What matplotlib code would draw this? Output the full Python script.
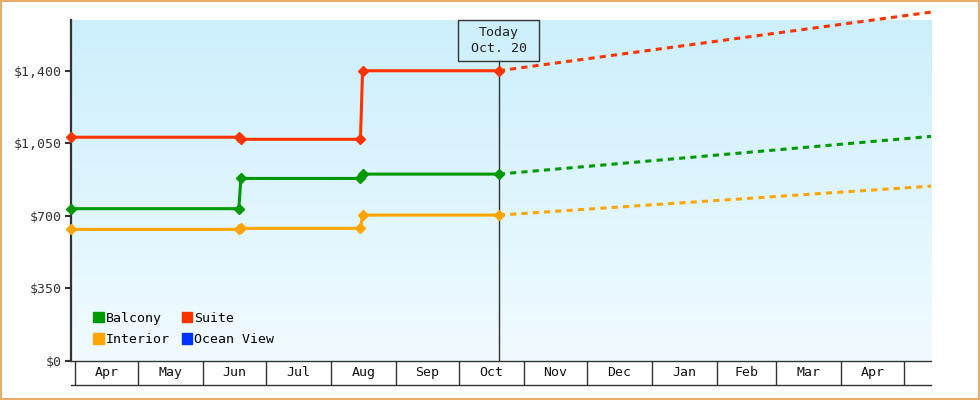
import numpy as np
import matplotlib.pyplot as plt
import matplotlib.dates as mdates
from matplotlib.patches import Patch, Rectangle
from matplotlib.ticker import FuncFormatter
from datetime import date

# price history (step changes) up to today
history_dates = [date(2014, 3, 30), date(2014, 6, 18), date(2014, 6, 19),
                 date(2014, 8, 15), date(2014, 8, 16), date(2014, 10, 20)]
suite_hist = [1079, 1079, 1069, 1069, 1400, 1400]
balcony_hist = [734, 734, 880, 880, 901, 901]
interior_hist = [634, 634, 639, 639, 703, 703]

# projection from today to the end of the range
today = date(2014, 10, 20)
proj_dates = [today, date(2015, 5, 14)]
suite_proj = [1400, 1683]
balcony_proj = [901, 1083]
interior_proj = [703, 843]

month_starts = [date(2014, m, 1) for m in range(4, 13)] + \
               [date(2015, m, 1) for m in range(1, 6)]
month_labels = ["Apr", "May", "Jun", "Jul", "Aug", "Sep", "Oct",
                "Nov", "Dec", "Jan", "Feb", "Mar", "Apr"]

x_start, x_end = date(2014, 3, 30), date(2015, 5, 14)
y_max = 1645
y_ticks = [0, 350, 700, 1050, 1400]

colors = {"Balcony": "#009900", "Interior": "#FFA500",
          "Suite": "#FF3300", "Ocean View": "#0033FF"}

plt.rcParams["font.family"] = ["DejaVu Sans Mono"]
plt.rcParams["font.size"] = 9.5

fig = plt.figure(figsize=(9.8, 4), dpi=100, edgecolor="#E9AB6A", linewidth=1.5)
ax = fig.add_axes([71 / 980, 39.3 / 400, 860 / 980, 340.7 / 400])
axm = fig.add_axes([71 / 980, 15 / 400, 860 / 980, 24.3 / 400], sharex=ax)

# gradient background
grad = np.linspace(0, 1, 256).reshape(-1, 1)
top = np.array([0.80, 0.937, 0.988])
bottom = np.array([0.945, 0.984, 1.0])
img = top * (1 - grad[..., None]) + bottom * grad[..., None]
ax.imshow(img, extent=[0, 1, 0, 1], transform=ax.transAxes,
          aspect="auto", zorder=0)

series = [
    (balcony_hist, balcony_proj, colors["Balcony"]),
    (interior_hist, interior_proj, colors["Interior"]),
    (suite_hist, suite_proj, colors["Suite"]),
]

# today marker line and box
ax.axvline(today, ymin=0, ymax=0.88, color="#333333", lw=1.0, zorder=2)
ax.add_patch(Rectangle((mdates.date2num(today) - 19.3, 0.88), 38.6, 0.12,
                       transform=ax.get_xaxis_transform(), fill=False,
                       edgecolor="#333333", lw=1.0, zorder=2, clip_on=False))
ax.text(today, 0.94, "Today\nOct. 20", transform=ax.get_xaxis_transform(),
        ha="center", va="center", linespacing=1.3, color="#222222", zorder=3)

for hist, proj, c in series:
    ax.plot(history_dates, hist, color=c, lw=2.2, marker="D", ms=5,
            zorder=4, clip_on=False)
    ax.plot(proj_dates, proj, color=c, lw=2.2, dashes=(2.0, 1.7),
            zorder=4, clip_on=False)

ax.set_xlim(x_start, x_end)
ax.set_ylim(0, y_max)
ax.set_yticks(y_ticks)
ax.yaxis.set_major_formatter(FuncFormatter(lambda v, p: f"${v:,.0f}"))
ax.tick_params(axis="y", length=4.5, width=1.5, color="#333333",
               labelcolor="#333333", pad=2)
ax.tick_params(axis="x", bottom=False, labelbottom=False)
for s in ["top", "right", "bottom"]:
    ax.spines[s].set_visible(False)
ax.spines["left"].set_linewidth(1.6)
ax.spines["left"].set_color("#333333")

# legend
handles = [Patch(color=colors[k]) for k in ["Balcony", "Interior", "Suite", "Ocean View"]]
ax.legend(handles, ["Balcony", "Interior", "Suite", "Ocean View"], ncol=2,
          loc="lower left", bbox_to_anchor=(0.012, 0.008), frameon=False,
          handlelength=0.8, handleheight=0.8, handletextpad=0.15,
          columnspacing=0.9, labelspacing=0.62, borderaxespad=0.5)

# month cells below the plot
axm.set_ylim(0, 1)
for d in month_starts:
    axm.axvline(d, color="#333333", lw=1.0)
for i, lab in enumerate(month_labels):
    mid = mdates.date2num(month_starts[i]) + \
        (mdates.date2num(month_starts[i + 1]) - mdates.date2num(month_starts[i])) / 2
    axm.text(mid, 0.5, lab, ha="center", va="center", color="#111111")
axm.set_yticks([])
axm.tick_params(axis="x", bottom=False, labelbottom=False)
axm.set_facecolor("white")
for s in ["left", "right"]:
    axm.spines[s].set_visible(False)
for s in ["top", "bottom"]:
    axm.spines[s].set_linewidth(1.0)
    axm.spines[s].set_color("#333333")

fig.savefig("out.png", dpi=100)
